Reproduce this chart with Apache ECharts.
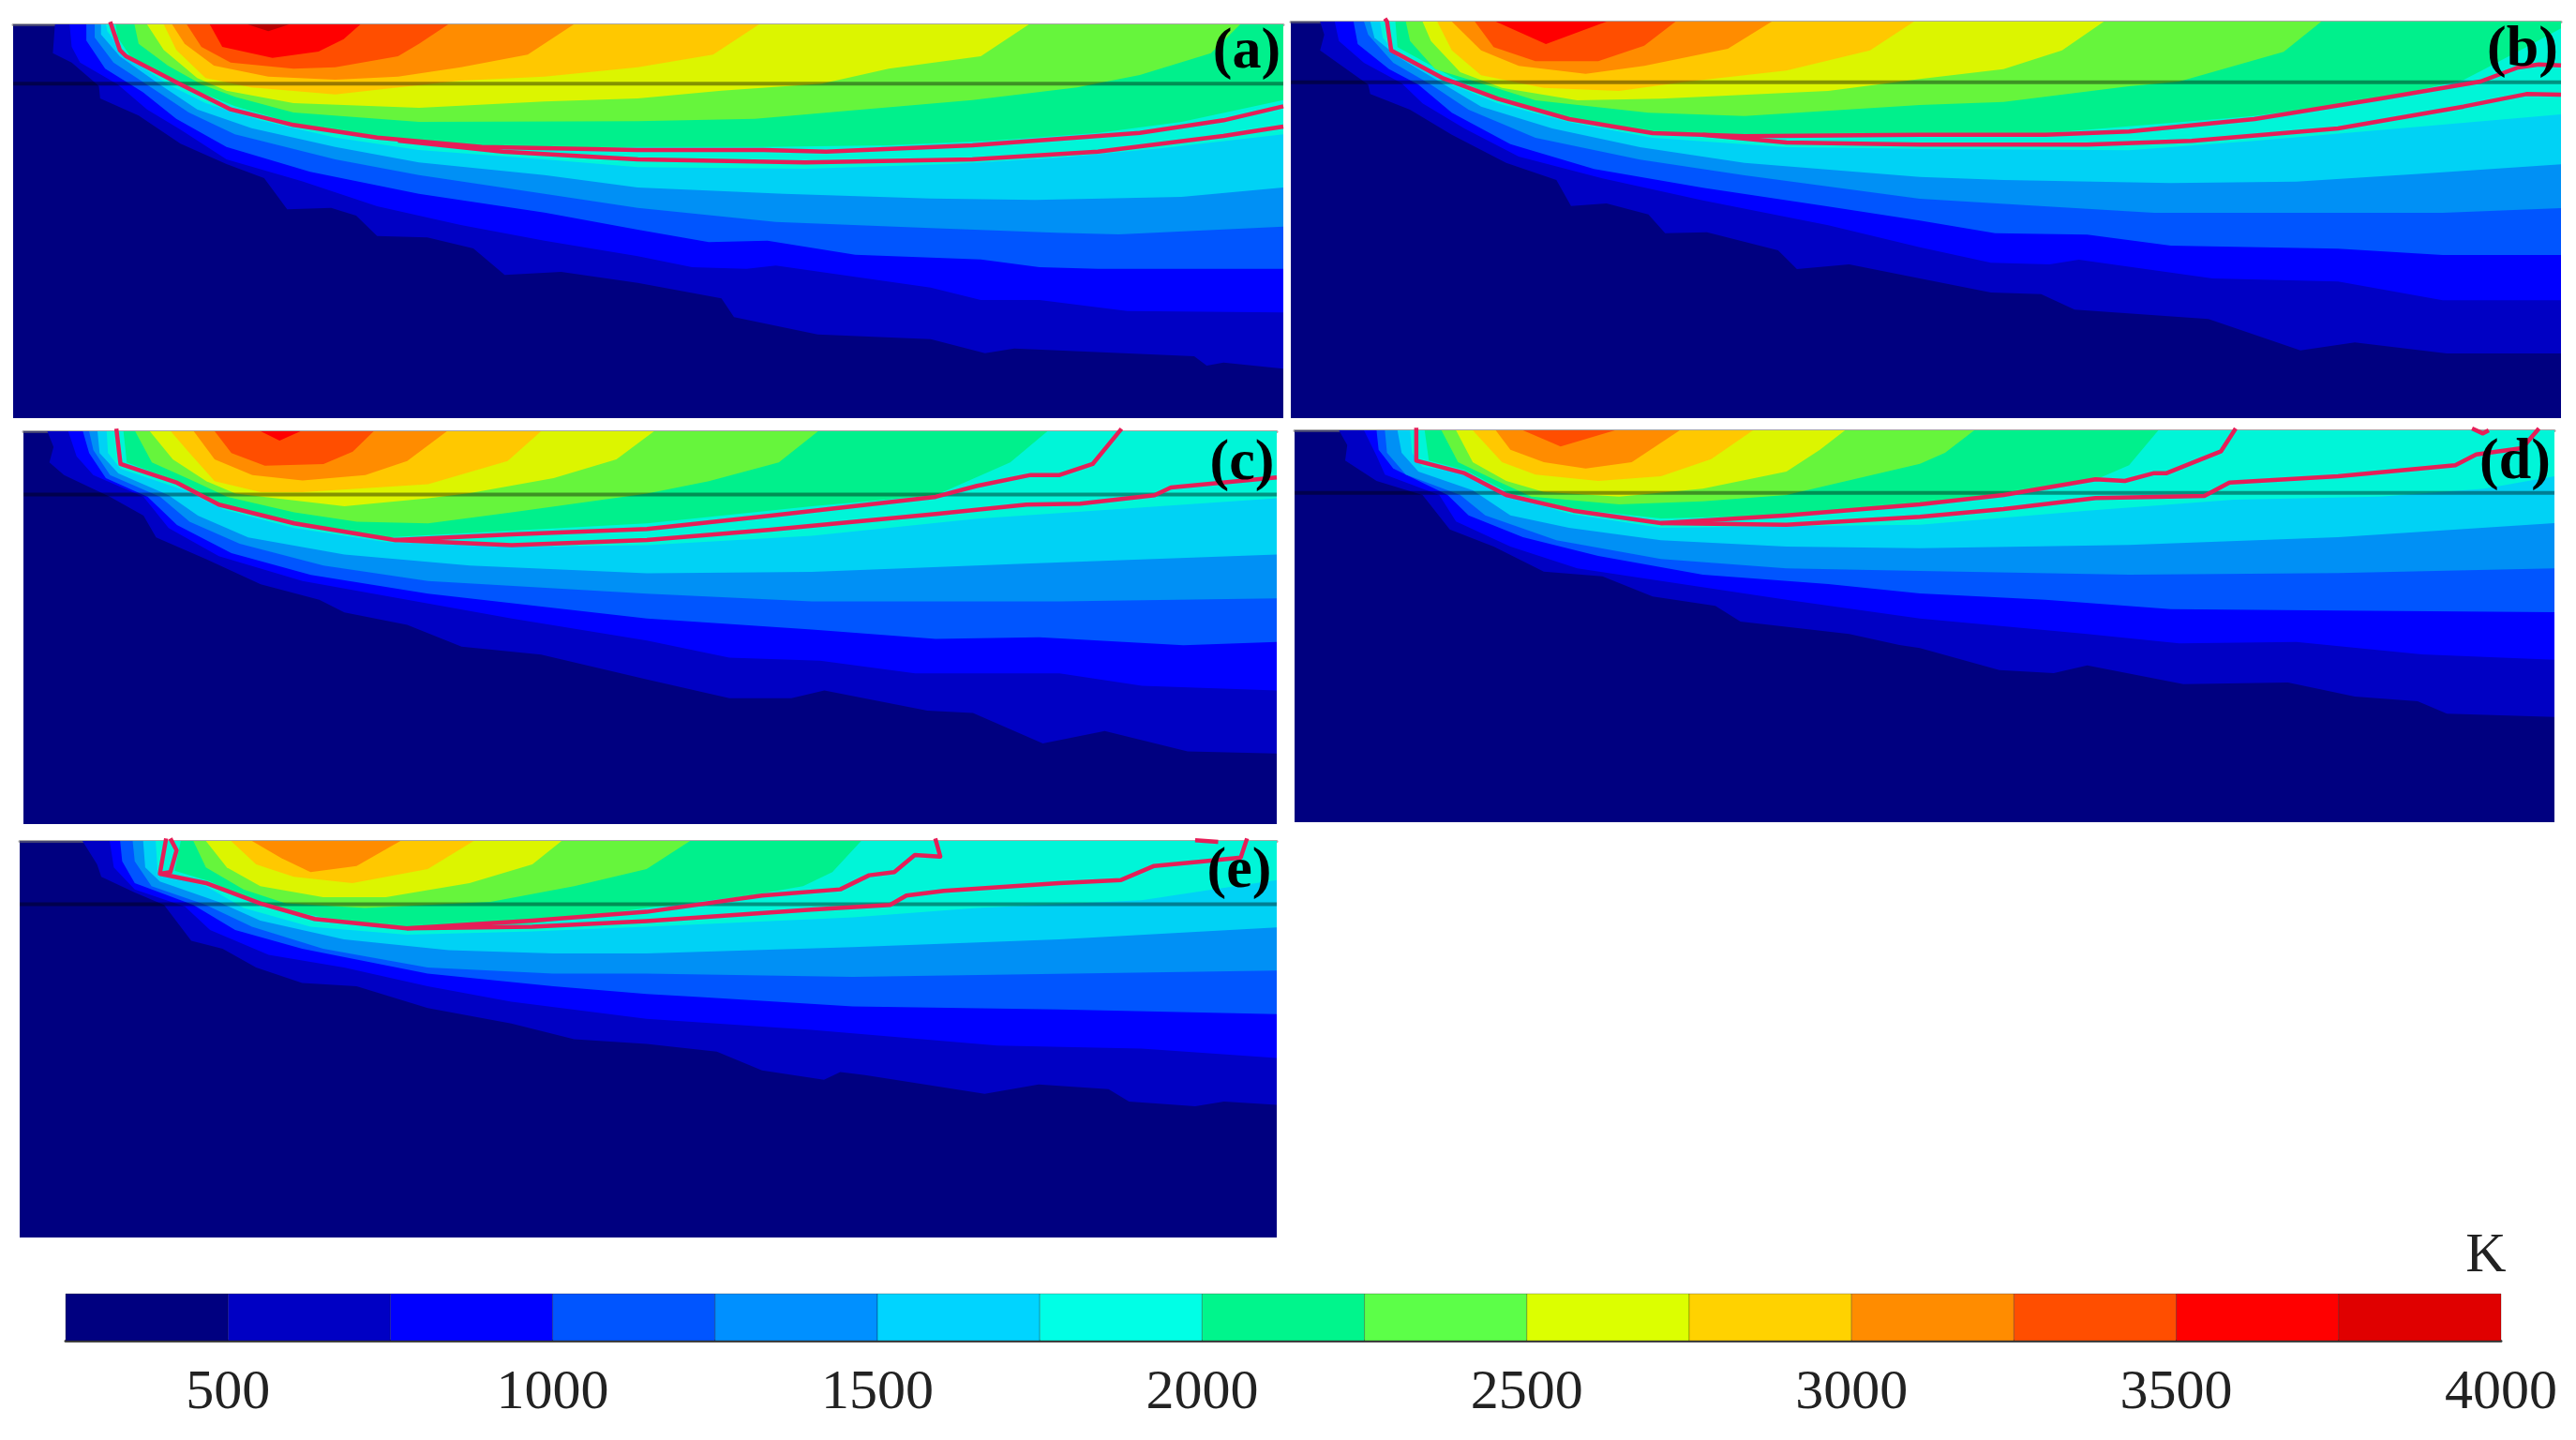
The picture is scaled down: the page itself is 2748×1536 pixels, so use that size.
<!DOCTYPE html>
<html><head><meta charset="utf-8">
<style>html,body{margin:0;padding:0;background:#fff}#c{width:2748px;height:1536px}</style>
<script src="https://cdn.jsdelivr.net/npm/echarts@6/dist/echarts.min.js"></script>
</head><body><div id="c"></div>
<script>
// Temperature band edges (K) and colours
const bandEdges=[250,500,750,1000,1250,1500,1750,2000,2250,2500,2750,3000,3250,3500,3750,4000];
const bandColors=['#000080','#0000C4','#0000FF','#0055FF','#0090F5','#00D2F5','#00F5D8','#00F08C','#66F53C','#DCF500','#FFC800','#FF8C00','#FF4E00','#FF0000','#B80000'];
const barColors=['#000080','#0000C4','#0000FF','#0055FF','#0090FF','#00D4FF','#00FFE6','#00F58C','#5CFF48','#DCFF00','#FFD200','#FF8C00','#FF4E00','#FF0000','#E00000'];
const tickLabels=[500,1000,1500,2000,2500,3000,3500,4000];
const unitLabel='K';
const panelNames=['(a)','(b)','(c)','(d)','(e)'];

// Panel (a): isotherms [position, depth]
const a500=[[130,48],[125,140],[170,170],[235,245],[238,285],[330,340],[430,430],[540,495],[630,540],[685,640],[790,635],[850,660],[900,725],[1020,730],[1130,765],[1205,850],[1340,840],[1523,875],[1723,925],[1753,985],[1953,1040],[2223,1055],[2353,1100],[2423,1085],[2853,1110],[2883,1140],[2923,1130],[3066,1150]];
const a750=[[165,48],[170,120],[190,170],[280,240],[350,320],[430,385],[540,480],[720,550],[900,630],[1100,690],[1300,740],[1523,790],[1653,825],[1783,830],[1853,820],[2223,890],[2343,930],[2483,930],[2693,965],[3066,970]];
const a1000=[[205,48],[205,100],[250,190],[340,265],[420,350],[540,440],[740,520],[1000,590],[1300,650],[1523,705],[1693,745],[1833,740],[2043,785],[2343,800],[2483,825],[2623,830],[3066,830]];
const a1250=[[225,48],[225,90],[270,170],[360,250],[450,330],[560,400],[800,480],[1000,530],[1300,590],[1523,635],[1853,680],[2223,700],[2523,715],[2673,720],[3066,695]];
const a1500=[[240,48],[240,80],[285,150],[380,240],[470,320],[600,380],[800,440],[1000,490],[1300,530],[1523,570],[1873,590],[2223,605],[2473,610],[2823,600],[3066,570]];
const a1750=[[252,48],[255,70],[300,150],[400,240],[490,300],[620,355],[800,410],[1000,450],[1300,480],[1523,505],[1923,510],[2273,495],[2523,475],[2773,445],[3066,400]];
const a2000=[[275,48],[280,90],[310,150],[430,240],[560,310],[700,365],[900,415],[1100,435],[1300,445],[1523,440],[1823,440],[2123,435],[2373,420],[2623,395],[2823,360],[3066,290]];
const a2250=[[320,48],[330,110],[400,180],[480,240],[560,280],[700,330],[1000,360],[1523,358],[1803,350],[2023,325],[2323,290],[2573,250],[2723,210],[2893,140],[2963,48]];
const a2500=[[350,48],[390,130],[470,220],[540,260],[700,300],[1000,315],[1300,295],[1523,285],[1723,260],[1963,238],[2123,190],[2343,150],[2458,48]];
const a2750=[[390,48],[420,130],[490,220],[600,250],[800,272],[950,250],[1100,228],[1300,215],[1523,185],[1703,145],[1813,48]];
const a3000=[[410,48],[440,110],[510,180],[640,215],[800,225],[950,215],[1100,185],[1260,145],[1370,48]];
const a3250=[[445,48],[480,120],[550,170],[700,190],[800,185],[950,150],[1000,110],[1070,48]];
const a3500=[[500,48],[530,120],[650,155],[760,135],[820,95],[860,48]];
const a3750=[[590,48],[640,70],[690,48]];
const aFrontUpper=[[262,40],[285,130],[300,150],[430,240],[550,320],[700,370],[900,410],[1150,440],[1523,450],[1823,450],[1973,455],[2323,435],[2723,395],[2923,355],[3066,310]];
const aFrontLower=[[950,420],[1200,455],[1523,480],[1923,490],[2323,480],[2623,455],[2923,405],[3066,375]];

// Panel (b)
const b500=[[85,38],[95,80],[85,130],[200,240],[205,270],[300,320],[400,400],[530,490],[650,545],[685,628],[770,620],[870,655],[910,715],[1010,712],[1180,770],[1225,830],[1350,815],[1519,860],[1689,905],[1809,910],[1889,960],[2209,990],[2429,1090],[2559,1065],[2779,1100],[3052,1100]];
const b750=[[120,38],[130,100],[190,170],[280,235],[330,300],[430,380],[560,470],[760,540],[1000,610],[1300,690],[1519,760],[1689,810],[1829,815],[1899,800],[2219,860],[2519,870],[2769,930],[3052,930]];
const b1000=[[165,38],[175,110],[250,190],[320,240],[400,330],[540,430],[740,510],[1000,570],[1300,630],[1519,675],[1699,715],[1919,720],[2119,755],[2519,765],[2769,785],[3052,785]];
const b1250=[[190,38],[200,80],[260,170],[350,240],[440,320],[600,410],[850,480],[1100,530],[1519,605],[1769,625],[2079,650],[2419,650],[2769,650],[3052,635]];
const b1500=[[205,38],[215,90],[270,150],[370,230],[470,310],[640,380],[850,440],[1100,490],[1519,535],[1719,545],[2119,555],[2419,550],[2719,525],[3052,495]];
const b1750=[[228,38],[235,90],[270,145],[400,240],[510,300],[680,360],[880,410],[1200,440],[1519,445],[2019,450],[2319,420],[2619,385],[3052,335]];
const b2000=[[265,38],[270,120],[400,215],[510,285],[680,350],[880,400],[1200,400],[1519,395],[1819,395],[2319,340],[2619,285],[2819,225],[2869,190],[2969,120],[3052,60]];
const b2250=[[290,38],[300,100],[360,190],[480,240],[600,290],[870,330],[1100,340],[1519,305],[1719,295],[2019,245],[2139,230],[2389,135],[2479,38]];
const b2500=[[330,38],[350,100],[420,200],[520,250],[700,290],[900,285],[1300,260],[1519,222],[1719,190],[1859,130],[1959,38]];
const b2750=[[365,38],[400,130],[470,210],[620,250],[800,260],[950,232],[1200,195],[1400,130],[1505,38]];
const b3000=[[400,38],[470,130],[560,180],[720,205],[860,180],[1060,125],[1165,38]];
const b3250=[[455,38],[500,120],[600,165],[750,165],[860,115],[935,38]];
const b3500=[[505,38],[625,110],[770,38]];
const bFrontUpper=[[240,28],[245,38],[255,130],[380,220],[510,285],[680,350],[880,395],[1100,405],[1519,400],[1819,400],[2019,390],[2319,350],[2619,285],[2859,230],[2949,185],[2999,175],[3052,178]];
const bFrontLower=[[1000,400],[1200,425],[1519,432],[1919,432],[2169,420],[2519,380],[2819,310],[2969,270],[3052,272]];

// Panel (c)
const c500=[[90,30],[105,80],[95,130],[130,170],[240,240],[320,300],[350,370],[470,440],[600,520],[740,570],[800,610],[950,650],[1080,720],[1270,745],[1523,825],[1720,885],[1868,885],[1947,860],[2193,925],[2302,932],[2469,1030],[2617,990],[2815,1055],[3028,1062]];
const c750=[[140,30],[160,110],[200,170],[320,240],[380,340],[500,430],[700,510],[950,570],[1200,630],[1523,700],[1720,755],[1937,765],[2164,805],[2509,805],[2706,845],[3028,860]];
const c1000=[[175,30],[190,100],[230,180],[330,240],[400,330],[530,420],[720,490],[1000,550],[1523,630],[1917,665],[2213,695],[2460,690],[2805,715],[3028,705]];
const c1250=[[190,30],[200,90],[240,170],[360,240],[430,320],[550,390],[750,460],[1000,510],[1523,550],[1917,575],[2509,575],[3028,565]];
const c1500=[[210,30],[215,100],[260,165],[380,235],[450,300],[570,370],[800,425],[1100,460],[1523,485],[1917,480],[2410,455],[3028,425]];
const c1750=[[232,30],[235,100],[265,150],[420,220],[510,280],[680,340],[900,385],[1200,400],[1523,395],[1917,365],[2312,310],[3028,245]];
const c2000=[[272,30],[280,130],[400,190],[500,265],[680,325],[900,370],[1523,325],[1917,270],[2213,235],[2391,130],[2480,30]];
const c2250=[[300,30],[340,130],[440,190],[520,240],[680,290],[830,320],[1000,325],[1200,290],[1523,230],[1671,190],[1838,130],[1932,30]];
const c2500=[[335,30],[390,120],[470,190],[540,230],[800,270],[1000,245],[1100,228],[1300,180],[1450,120],[1540,30]];
const c2750=[[385,30],[430,100],[490,190],[600,225],[700,225],[1000,200],[1190,125],[1270,30]];
const c3000=[[440,30],[490,120],[580,170],[700,188],[850,170],[950,125],[1045,30]];
const c3250=[[490,30],[530,100],[610,140],[750,135],[820,95],[870,30]];
const c3500=[[600,30],[645,60],[695,30]];
const cFrontUpper=[[255,22],[265,135],[400,195],[500,265],[680,325],[920,378],[1200,360],[1523,343],[1819,300],[2213,240],[2312,205],[2440,170],[2509,170],[2588,135],[2657,22]];
const cFrontLower=[[920,378],[1200,395],[1523,378],[1819,345],[2213,295],[2430,265],[2558,262],[2736,235],[2775,210],[3028,178]];

// Panel (d)
const d500=[[130,28],[150,75],[145,125],[220,190],[330,235],[395,345],[500,400],[620,480],[760,495],[880,560],[1030,590],[1090,640],[1350,680],[1470,715],[1519,725],[1709,795],[1839,805],[1919,780],[2149,840],[2399,835],[2559,880],[2709,895],[2779,935],[3036,945]];
const d750=[[190,28],[220,110],[240,170],[370,235],[410,320],[540,400],[700,470],[950,520],[1200,570],[1519,630],[1919,680],[2139,710],[2419,705],[2719,745],[3036,762]];
const d1000=[[220,28],[225,90],[260,150],[390,235],[440,300],[570,370],[750,430],[1000,490],[1300,520],[1519,550],[1819,570],[2119,600],[2519,605],[3036,610]];
const d1250=[[240,28],[245,100],[290,170],[420,235],[480,300],[650,380],[900,440],[1200,470],[1519,478],[2019,490],[2519,485],[3036,470]];
const d1500=[[270,28],[280,100],[320,160],[450,220],[540,300],[680,340],[900,380],[1200,400],[1519,405],[2019,395],[2519,370],[3036,325]];
const d1750=[[300,28],[305,100],[330,145],[430,165],[530,235],[680,295],[900,340],[1200,335],[1519,330],[1919,285],[2269,250],[2619,240],[2869,215],[3036,175]];
const d2000=[[335,28],[345,125],[430,155],[540,230],[690,280],[900,310],[1200,300],[1519,262],[1819,215],[1949,180],[2019,140],[2089,28]];
const d2250=[[375,28],[415,130],[500,185],[590,240],[800,265],[1000,255],[1200,235],[1519,135],[1579,100],[1649,28]];
const d2500=[[410,28],[450,130],[530,190],[620,225],[800,240],[1000,215],[1200,160],[1280,90],[1340,28]];
const d2750=[[450,28],[520,130],[600,170],[750,190],[900,175],[1020,120],[1120,28]];
const d3000=[[505,28],[540,90],[620,130],[720,150],[830,130],[945,28]];
const d3250=[[570,28],[660,80],[790,28]];
const dFrontUpper=[[315,20],[315,125],[430,165],[530,235],[690,285],[900,325],[1200,300],[1519,265],[1719,235],[1939,185],[2009,190],[2079,165],[2109,165],[2239,95],[2274,22]];
const dFrontLower=[[900,325],[1200,330],[1519,305],[1719,280],[1939,245],[2199,238],[2259,195],[2519,175],[2799,140],[2849,105],[2959,85],[2999,22]];
const dFrontTip=[[2839,22],[2865,38],[2879,28]];

// Panel (e)
const e500=[[175,35],[210,110],[220,150],[300,200],[370,240],[435,355],[510,380],[590,440],[700,490],[830,500],[1000,570],[1200,620],[1350,670],[1523,685],[1691,710],[1799,770],[1947,800],[1986,775],[2045,785],[2331,845],[2460,815],[2627,830],[2676,870],[2834,885],[2903,870],[3029,880]];
const e750=[[240,35],[250,120],[300,190],[420,245],[480,320],[620,400],[800,440],[1000,500],[1200,550],[1523,605],[1917,640],[2361,690],[2706,700],[3029,730]];
const e1000=[[265,35],[270,100],[300,170],[440,240],[540,320],[700,380],[1000,460],[1300,500],[1523,525],[1651,535],[2016,565],[2509,575],[3029,590]];
const e1250=[[295,35],[300,100],[340,180],[470,240],[580,310],[750,380],[1000,440],[1300,460],[1523,460],[2016,470],[3029,450]];
const e1500=[[320,35],[325,120],[360,165],[500,230],[600,290],[800,350],[1050,385],[1300,395],[1523,395],[2016,375],[2509,350],[3029,312]];
const e1750=[[350,35],[355,140],[470,180],[560,250],[720,310],[950,335],[1250,325],[1523,310],[2016,280],[2312,250],[2706,225],[2854,195],[3029,160]];
const e2000=[[410,35],[395,130],[480,165],[600,240],[750,280],[950,315],[1250,300],[1523,250],[1769,210],[1897,180],[1967,135],[2036,35]];
const e2250=[[440,35],[470,120],[560,190],[660,235],[850,250],[1150,230],[1350,180],[1523,125],[1627,35]];
const e2500=[[470,35],[520,120],[600,180],[750,215],[900,215],[1100,170],[1250,110],[1320,35]];
const e2750=[[530,35],[590,110],[680,150],[820,170],[1000,125],[1110,35]];
const e3000=[[580,35],[650,90],[720,135],[830,115],[935,35]];
const eFrontUpper=[[375,27],[360,140],[470,170],[600,235],[730,285],[950,315],[1250,290],[1523,262],[1799,210],[1986,190],[2055,145],[2115,135],[2164,80],[2225,85],[2213,27]];
const eFrontInner=[[385,27],[400,65],[385,135],[360,140]];
const eFrontLower=[[950,315],[1250,310],[1523,292],[1917,255],[2105,240],[2144,210],[2233,195],[2509,170],[2657,160],[2736,115],[2854,100],[2943,88],[2958,27]];
const eFrontTip=[[2834,33],[2889,38]];

// Which isotherm belongs to which band, per panel (index 1 = 500 K edge)
const isothermsA=[a500,a750,a1000,a1250,a1500,a1750,a2000,a2250,a2500,a2750,a3000,a3250,a3500,a3750];
const isothermsB=[b500,b750,b1000,b1250,b1500,b1750,b2000,b2250,b2500,b2750,b3000,b3250,b3500];
const isothermsC=[c500,c750,c1000,c1250,c1500,c1750,c2000,c2250,c2500,c2750,c3000,c3250,c3500];
const isothermsD=[d500,d750,d1000,d1250,d1500,d1750,d2000,d2250,d2500,d2750,d3000,d3250];
const isothermsE=[e500,e750,e1000,e1250,e1500,e1750,e2000,e2250,e2500,e2750,e3000];
const frontsA=[aFrontUpper,aFrontLower];
const frontsB=[bFrontUpper,bFrontLower];
const frontsC=[cFrontUpper,cFrontLower];
const frontsD=[dFrontUpper,dFrontLower,dFrontTip];
const frontsE=[eFrontUpper,eFrontInner,eFrontLower,eFrontTip];
// Depth of the dark interface line in each panel
const interfaceDepth=[238,232,233,228,238];

// Layout
const layouts=[
 {left:14,top:26,width:1355,height:420,x:[30,3066],y:[48,1308],iso:isothermsA,fronts:frontsA,lbl:[1330,56]},
 {left:1377,top:23,width:1355,height:423,x:[15,3052],y:[38,1307],iso:isothermsB,fronts:frontsB,lbl:[2691,54]},
 {left:25,top:460,width:1337,height:419,x:[33,3028],y:[30,1288],iso:isothermsC,fronts:frontsC,lbl:[1325,495]},
 {left:1381,top:459,width:1344,height:418,x:[24,3036],y:[28,1282],iso:isothermsD,fronts:frontsD,lbl:[2683,494]},
 {left:21,top:897,width:1341,height:423,x:[25,3029],y:[35,1305],iso:isothermsE,fronts:frontsE,lbl:[1322,930]}
];

const grid=[],xAxis=[],yAxis=[],series=[],graphic=[];
layouts.forEach((p,i)=>{
  grid.push({left:p.left,top:p.top,width:p.width,height:p.height,show:true,backgroundColor:bandColors[0],borderWidth:0,containLabel:false});
  xAxis.push({gridIndex:i,type:'value',position:'top',min:p.x[0],max:p.x[1],splitLine:{show:false},axisTick:{show:false},axisLabel:{show:false},
    axisLine:{show:true,onZero:false,lineStyle:{color:'rgba(110,110,110,0.6)',width:3}}});
  yAxis.push({gridIndex:i,type:'value',inverse:true,min:p.y[0],max:p.y[1],show:false});
  p.iso.forEach((pts,k)=>{
    const last=pts[pts.length-1];
    const ring=last[1]>p.y[0]?pts.concat([[p.x[1],p.y[0]]]):pts;
    series.push({type:'custom',coordinateSystem:'cartesian2d',xAxisIndex:i,yAxisIndex:i,clip:true,silent:true,animation:false,z:2,
      data:pts,encode:{x:0,y:1},
      renderItem:(params,api)=>params.dataIndex===0?{type:'polygon',shape:{points:ring.map(q=>api.coord(q))},style:{fill:bandColors[k+1],stroke:null}}:null});
  });
  series.push({type:'line',xAxisIndex:i,yAxisIndex:i,silent:true,animation:false,symbol:'none',z:3,
    data:[[p.x[0],interfaceDepth[i]],[p.x[1],interfaceDepth[i]]],lineStyle:{color:'rgba(0,0,0,0.4)',width:4}});
  p.fronts.forEach(pts=>{
    series.push({type:'line',xAxisIndex:i,yAxisIndex:i,silent:true,animation:false,symbol:'none',clip:false,z:4,
      data:pts,lineStyle:{color:'#E61E58',width:4.5,join:'round'}});
  });
  graphic.push({type:'text',x:p.lbl[0],y:p.lbl[1],z:10,style:{text:panelNames[i],font:'bold 62px "Liberation Serif"',fill:'#000',textAlign:'center',textVerticalAlign:'middle'}});
});

// Colour bar
const barIndex=layouts.length;
grid.push({left:70,top:1380,width:2598,height:50,show:false});
xAxis.push({gridIndex:barIndex,type:'value',min:250,max:4000,interval:250,splitLine:{show:false},axisTick:{show:false},
  axisLine:{show:true,onZero:false,lineStyle:{color:'#444',width:3}},
  axisLabel:{show:true,margin:26,hideOverlap:false,showMinLabel:true,showMaxLabel:true,color:'#222',fontFamily:'Liberation Serif',fontSize:60,
    formatter:v=>tickLabels.includes(v)?String(v):''}});
yAxis.push({gridIndex:barIndex,type:'value',min:0,max:1,show:false});
series.push({type:'custom',coordinateSystem:'cartesian2d',xAxisIndex:barIndex,yAxisIndex:barIndex,silent:true,animation:false,
  data:barColors.map((c,i)=>[bandEdges[i],bandEdges[i+1]]),encode:{x:[0,1]},
  renderItem:(params,api)=>{
    const a=api.coord([api.value(0),1]),b=api.coord([api.value(1),0]);
    return {type:'rect',shape:{x:a[0],y:a[1],width:b[0]-a[0],height:b[1]-a[1]},style:{fill:barColors[params.dataIndex],stroke:'rgba(0,0,0,0.25)',lineWidth:1}};
  }});
graphic.push({type:'text',x:2652,y:1340,z:10,style:{text:unitLabel,font:'60px "Liberation Serif"',fill:'#222',textAlign:'center',textVerticalAlign:'middle'}});

const chart=echarts.init(document.getElementById('c'),null,{renderer:'canvas',width:2748,height:1536});
chart.setOption({animation:false,backgroundColor:'#fff',grid,xAxis,yAxis,series,graphic,tooltip:{show:false}});
</script></body></html>
